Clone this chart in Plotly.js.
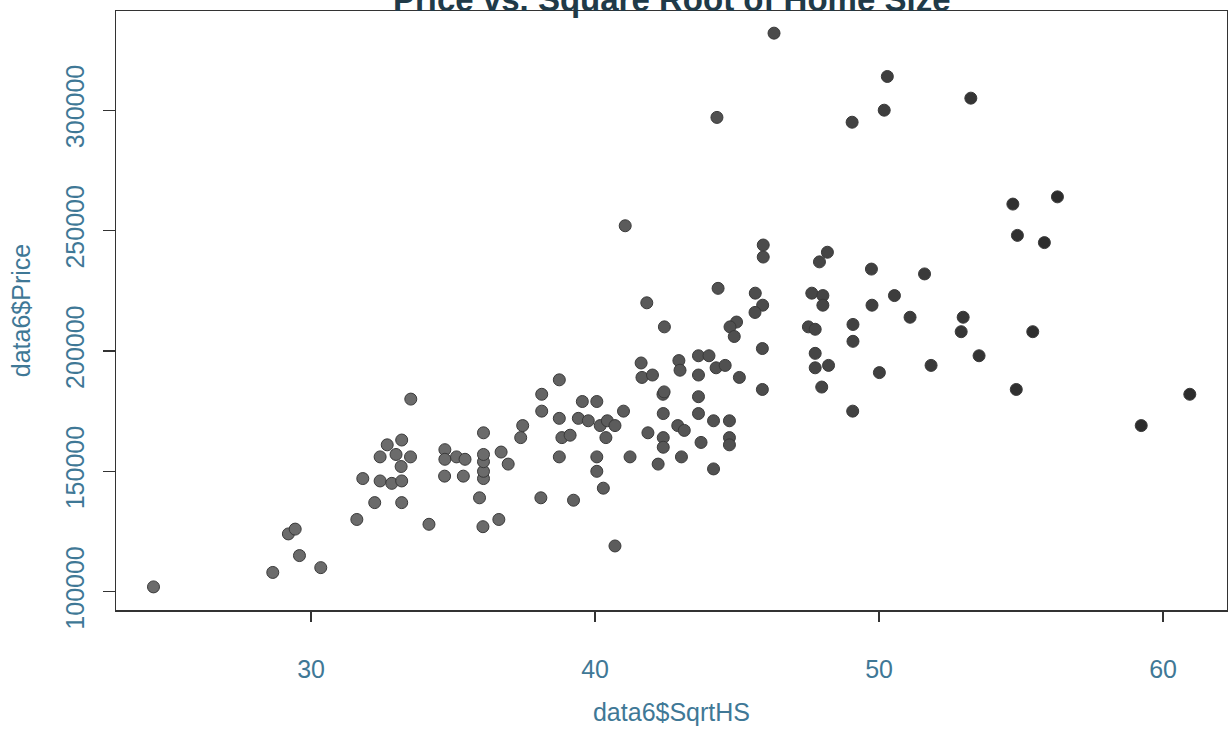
<!DOCTYPE html>
<html>
<head>
<meta charset="utf-8">
<script src="https://cdn.plot.ly/plotly-3.0.1.min.js"></script>
<style>
html,body{margin:0;padding:0;background:#fff;}
#chart{width:1228px;height:731px;}
</style>
</head>
<body>
<div id="chart"></div>
<script>
// Square root of home size (x) and price (y)
const sqrtHS = [
  24.45, 28.65, 29.59, 30.34, 29.2, 29.44, 31.61, 34.15, 36.05, 36.61,
  35.93, 32.24, 33.19, 31.82, 32.43, 32.84, 33.19, 34.7, 35.36, 36.07,
  36.07, 36.07, 36.07, 36.07, 36.69, 36.94, 37.45, 37.38, 34.71, 34.71,
  35.12, 35.42, 32.43, 32.68, 32.99, 33.19, 33.17, 33.5, 33.51,
  38.74, 38.12, 38.12, 38.74, 39.55, 40.06, 39.41, 39.76, 40.18, 40.43,
  40.7, 41.0, 38.83, 39.12, 40.38, 38.74, 40.06, 41.23, 40.06, 40.29,
  38.09, 39.24, 40.7, 41.62, 41.65, 42.02, 42.95, 42.99, 43.64, 44.01,
  44.26, 44.58, 43.64, 45.08, 42.39, 42.43, 43.64, 43.64, 44.17, 44.73,
  44.73, 44.73, 43.73, 42.4, 42.91, 43.14, 41.86, 42.4, 42.4, 43.04,
  42.22, 44.17, 45.89, 45.89, 44.33, 45.64, 45.9, 45.63, 41.82, 42.44,
  44.98, 44.75, 44.9, 41.06, 44.29, 46.3, 45.92, 45.92,
  50.29, 53.23, 50.18, 49.05, 56.28, 54.71, 54.87, 55.82, 48.18, 47.9,
  49.73, 51.6, 47.63, 48.02, 48.02, 50.54, 49.75, 51.09, 52.96, 52.89,
  47.51, 47.75, 49.08, 49.08, 55.41, 53.52, 47.75, 47.75, 48.22, 50.01,
  51.83, 47.98, 54.83, 60.94, 49.07, 59.23
];
const price = [
  102000, 108000, 115000, 110000, 124000, 126000, 130000, 128000, 127000, 130000,
  139000, 137000, 137000, 147000, 146000, 145000, 146000, 148000, 148000, 147000,
  150000, 154000, 157000, 166000, 158000, 153000, 169000, 164000, 159000, 155000,
  156000, 155000, 156000, 161000, 157000, 163000, 152000, 156000, 180000,
  188000, 182000, 175000, 172000, 179000, 179000, 172000, 171000, 169000, 171000,
  169000, 175000, 164000, 165000, 164000, 156000, 156000, 156000, 150000, 143000,
  139000, 138000, 119000, 195000, 189000, 190000, 196000, 192000, 198000, 198000,
  193000, 194000, 190000, 189000, 182000, 183000, 181000, 174000, 171000, 171000,
  164000, 161000, 162000, 174000, 169000, 167000, 166000, 164000, 160000, 156000,
  153000, 151000, 201000, 184000, 226000, 224000, 219000, 216000, 220000, 210000,
  212000, 210000, 206000, 252000, 297000, 332000, 244000, 239000,
  314000, 305000, 300000, 295000, 264000, 261000, 248000, 245000, 241000, 237000,
  234000, 232000, 224000, 223000, 219000, 223000, 219000, 214000, 214000, 208000,
  210000, 209000, 211000, 204000, 208000, 198000, 199000, 193000, 194000, 191000,
  194000, 185000, 184000, 182000, 175000, 169000
];
const xTicks = [30, 40, 50, 60];
const yTicks = [100000, 150000, 200000, 250000, 300000];
const yTickText = ['100000', '150000', '200000', '250000', '300000'];

const chartTitle = 'Price vs. Square Root of Home Size';
const xTitle = 'data6$SqrtHS';
const yTitle = 'data6$Price';

const labelColor = '#3f7896';
const fontFam = '"Liberation Sans", Arial, sans-serif';

const trace = {
  type: 'scatter',
  mode: 'markers',
  x: sqrtHS,
  y: price,
  marker: {
    size: 12,
    color: sqrtHS,
    cmin: 36,
    cmax: 56,
    colorscale: [[0, '#6b6b6b'], [1, '#2c2c2c']],
    showscale: false,
    line: {color: '#3a3a3a', width: 1}
  },
  hoverinfo: 'x+y'
};

const layout = {
  width: 1228,
  height: 731,
  margin: {l: 116, r: 1, t: 11, b: 121},
  paper_bgcolor: '#ffffff',
  plot_bgcolor: '#ffffff',
  showlegend: false,
  font: {family: fontFam, color: labelColor},
  xaxis: {
    range: [23.13, 62.25],
    tickvals: xTicks,
    ticktext: xTicks.map(String),
    ticks: 'outside',
    ticklen: 10,
    tickwidth: 1.3,
    tickcolor: '#333',
    showline: true,
    mirror: true,
    linecolor: '#333',
    linewidth: 1.5,
    showgrid: false,
    zeroline: false,
    ticklabelstandoff: 26,
    tickfont: {size: 25, color: labelColor, family: fontFam},
    title: {text: xTitle, font: {size: 25, color: labelColor, family: fontFam}, standoff: 22}
  },
  yaxis: {
    range: [92400, 341200],
    tickvals: yTicks,
    ticktext: yTickText,
    tickangle: -90,
    ticks: 'outside',
    ticklen: 12,
    tickwidth: 1.3,
    tickcolor: '#333',
    showline: true,
    mirror: true,
    linecolor: '#333',
    linewidth: 1.5,
    showgrid: false,
    zeroline: false,
    ticklabelstandoff: 9,
    tickfont: {size: 25, color: labelColor, family: fontFam},
    title: {text: yTitle, font: {size: 25, color: labelColor, family: fontFam}, standoff: 23}
  },
  annotations: [{
    text: '<b>' + chartTitle + '</b>',
    xref: 'paper', yref: 'paper',
    x: 0.5, y: 1, xanchor: 'center', yanchor: 'middle',
    yshift: 12,
    showarrow: false,
    font: {size: 33, color: '#203a48', family: fontFam}
  }]
};

Plotly.newPlot('chart', [trace], layout, {displayModeBar: false, staticPlot: true});
</script>
</body>
</html>
